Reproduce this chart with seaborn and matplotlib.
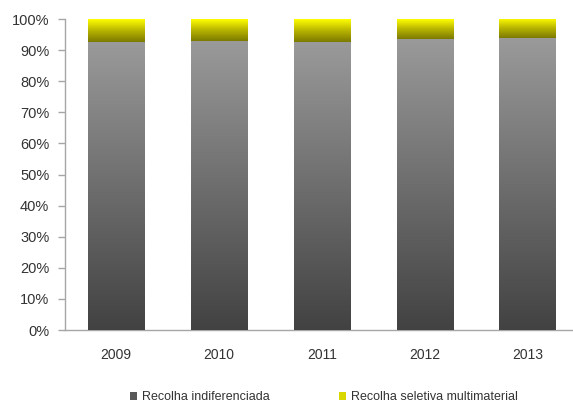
import numpy as np
import pandas as pd
import matplotlib
matplotlib.use("Agg")
import matplotlib.pyplot as plt
from matplotlib.colors import LinearSegmentedColormap
from matplotlib.patches import Patch
import seaborn as sns

years = ["2009", "2010", "2011", "2012", "2013"]
indiferenciada = [92.7, 93.0, 92.7, 93.7, 93.8]
seletiva = [7.3, 7.0, 7.3, 6.3, 6.2]
series_names = ["Recolha indiferenciada", "Recolha seletiva multimaterial"]

sns.set_theme(style="white")
plt.rcParams["font.family"] = ["Liberation Sans", "DejaVu Sans"]

df = pd.DataFrame({
    "ano": years,
    "indif": indiferenciada,
    "total": np.array(indiferenciada) + np.array(seletiva),
})

fig = plt.figure(figsize=(5.73, 4.03), dpi=100)
ax = fig.add_axes([0.1127, 0.1811, 0.8977, 0.7717])

# stacked bars: total first (top segment), then the lower segment over it
sns.barplot(data=df, x="ano", y="total", color="#d8d800", width=0.545,
            saturation=1, ax=ax, zorder=2)
sns.barplot(data=df, x="ano", y="indif", color="#6e6e6e", width=0.545,
            saturation=1, ax=ax, zorder=3)

gray_cmap = LinearSegmentedColormap.from_list("g", ["#424242", "#9a9a9a"])
yellow_cmap = LinearSegmentedColormap.from_list("y", ["#7c7a00", "#b8b400", "#ffff00"])
grad = np.linspace(0, 1, 256).reshape(-1, 1)

n = len(years)
top_patches = ax.patches[:n]
low_patches = ax.patches[n:]
for p, lo in zip(low_patches, df["indif"]):
    x0, w = p.get_x(), p.get_width()
    im = ax.imshow(grad, cmap=gray_cmap, aspect="auto", origin="lower",
                   extent=[x0, x0 + w, 0, lo], zorder=4)
    im.set_clip_path(p)
for p, lo, tot in zip(top_patches, df["indif"], df["total"]):
    x0, w = p.get_x(), p.get_width()
    im = ax.imshow(grad, cmap=yellow_cmap, aspect="auto", origin="lower",
                   extent=[x0, x0 + w, lo, tot], zorder=4)
    im.set_clip_path(p)

ax.set_xlim(-0.5, n - 0.5)
ax.set_ylim(0, 100)
ax.set_yticks(np.arange(0, 101, 10))
ax.set_yticklabels([f"{v}%" for v in range(0, 101, 10)])
ax.set_xlabel("")
ax.set_ylabel("")

for s in ["top", "right"]:
    ax.spines[s].set_visible(False)
for s in ["left", "bottom"]:
    ax.spines[s].set_color("#a6a6a6")
    ax.spines[s].set_linewidth(1.0)

ax.set_xticks(np.arange(n))
ax.set_xticks(np.arange(-0.5, n, 1.0), minor=True)
ax.tick_params(axis="x", which="major", length=0, pad=13, labelsize=10, colors="#333333")
ax.tick_params(axis="x", which="minor", length=5, width=1, color="#a6a6a6", direction="out")
ax.tick_params(axis="y", length=5, width=1, color="#a6a6a6", direction="out",
               pad=6, labelsize=10.5, labelcolor="#333333", left=True)
for lab in ax.get_xticklabels():
    lab.set_color("#333333")

handles = [Patch(facecolor="#595959", edgecolor="none"),
           Patch(facecolor="#d8d800", edgecolor="none")]
fig.legend(handles, series_names, loc="center", ncol=2, frameon=False,
           bbox_to_anchor=(0.565, 0.015), fontsize=9, handlelength=0.6,
           handleheight=0.6, handletextpad=0.4, columnspacing=5.5,
           labelcolor="#333333")

fig.savefig("out.png", dpi=100, facecolor="white")
